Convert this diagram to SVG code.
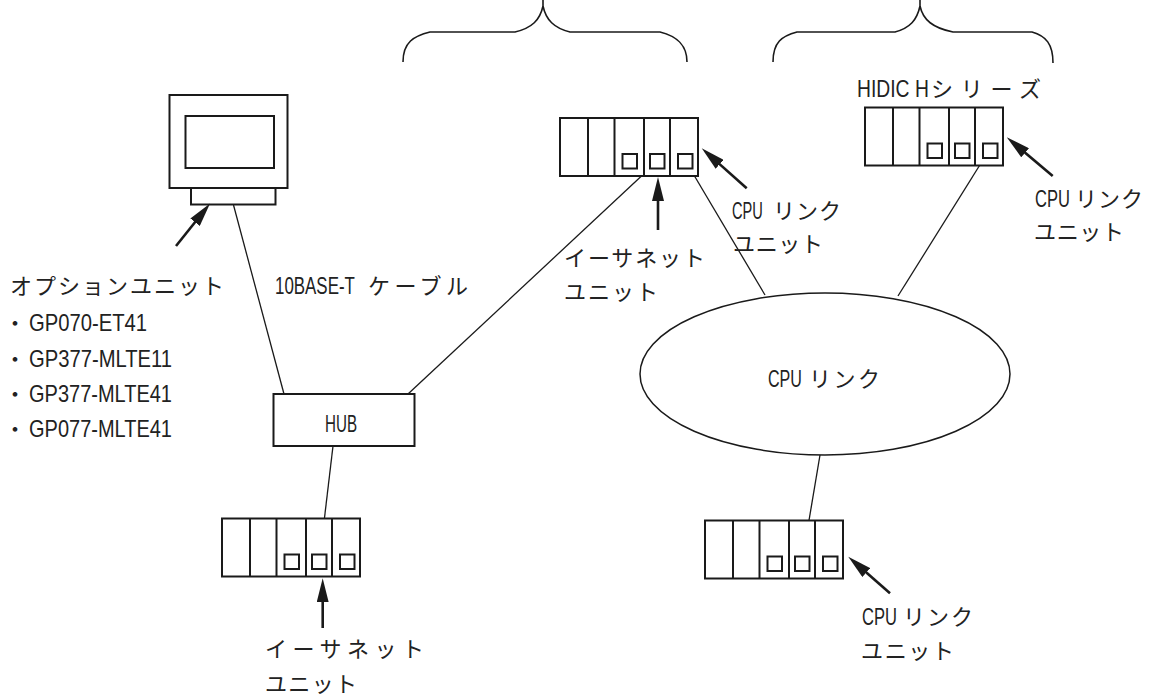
<svg xmlns="http://www.w3.org/2000/svg" xmlns:xlink="http://www.w3.org/1999/xlink" width="1155" height="696" viewBox="0 0 1155 696">
  <style>
    .box { fill: #fff; stroke: #1a1a1a; stroke-width: 2; }
    .thin { fill: none; stroke: #1a1a1a; stroke-width: 1.3; }
    .brace { fill: none; stroke: #1a1a1a; stroke-width: 1.6; }
    .arrow { fill: none; stroke: #1a1a1a; stroke-width: 2.6; marker-end: url(#head); }
    .jp { font-family: "Noto Sans CJK JP", "Noto Sans", sans-serif; font-size: 22px; fill: #222; }
    .lat { font-family: "Liberation Sans", Arial, sans-serif; font-size: 24px; fill: #222; }
  </style>
  <defs>
    <marker id="head" viewBox="0 0 24 12" markerWidth="24" markerHeight="12" refX="14" refY="6" orient="auto" markerUnits="userSpaceOnUse">
      <path d="M0,0 L24,6 L0,12 Z" fill="#1a1a1a"/>
    </marker>
    <!-- five-slot rack PLC -->
    <symbol id="plc" overflow="visible">
      <rect class="box" x="0" y="0" width="138" height="58"/>
      <path class="box" d="M28,0 V58 M54.5,0 V58 M84,0 V58 M110,0 V58"/>
      <rect class="box" x="62.5" y="36" width="14.5" height="14.5"/>
      <rect class="box" x="90" y="36" width="14.5" height="14.5"/>
      <rect class="box" x="118" y="36" width="14.5" height="14.5"/>
    </symbol>
  </defs>
  <rect width="1155" height="696" fill="#fff"/>

  <!-- braces over the two controller groups -->
  <g id="braces">
    <path class="brace" d="M403,62 C403,42 414,36 430,32 L515,32 C532,28 540,20 543,6 C546,20 554,28 570,32 L660,32 C676,36 687,44 687,62 M543,6 V0"/>
    <path class="brace" d="M773,62 C773,42 782,36 797,32 L895,32 C910,28 917,20 920,6 C923,20 933,28 953,32 L1032,32 C1046,36 1053,44 1053,63 M920,6 V0"/>
  </g>

  <!-- cables -->
  <g id="connectors">
    <path class="thin" d="M233.5,205 L284,394"/>
    <path class="thin" d="M408,394 L656.5,162"/>
    <path class="thin" d="M333,446 L319.5,560"/>
    <path class="thin" d="M685,160 L765,295"/>
    <path class="thin" d="M988,152 L898,296"/>
    <path class="thin" d="M820,455 L802,562"/>
  </g>

  <!-- display unit -->
  <g id="display">
    <rect class="box" x="169.5" y="95" width="118" height="93"/>
    <rect class="box" x="185.5" y="116" width="88.5" height="52"/>
    <rect class="box" x="191" y="188" width="84.5" height="16.5"/>
  </g>

  <g id="option-unit-label">
    <path class="arrow" d="M176,246 L203.8,211.2"/>
    <text class="jp" x="10" y="294" textLength="214" lengthAdjust="spacing">オプションユニット</text>
    <text class="jp" x="4" y="331">・<tspan class="lat" x="29" textLength="118" lengthAdjust="spacingAndGlyphs">GP070-ET41</tspan></text>
    <text class="jp" x="4" y="367">・<tspan class="lat" x="29" textLength="143" lengthAdjust="spacingAndGlyphs">GP377-MLTE11</tspan></text>
    <text class="jp" x="4" y="402">・<tspan class="lat" x="29" textLength="143" lengthAdjust="spacingAndGlyphs">GP377-MLTE41</tspan></text>
    <text class="jp" x="4" y="437">・<tspan class="lat" x="29" textLength="143" lengthAdjust="spacingAndGlyphs">GP077-MLTE41</tspan></text>
  </g>

  <!-- narrow Latin parts are drawn horizontally condensed -->
  <g id="cable-label">
    <text class="lat" transform="translate(275,294) scale(0.705,1)">10BASE-T</text>
    <text class="jp" x="368" y="294" textLength="100" lengthAdjust="spacing">ケーブル</text>
  </g>

  <g id="hub">
    <rect class="box" x="273.5" y="394" width="141" height="52"/>
    <text class="lat" x="325" y="432" textLength="32" lengthAdjust="spacingAndGlyphs">HUB</text>
  </g>

  <!-- PLC with Ethernet and CPU link units -->
  <g id="plc-ethernet">
    <use xlink:href="#plc" x="560" y="118"/>
    <path class="arrow" d="M658,230 L658,187"/>
    <text class="jp" x="564" y="266" textLength="141" lengthAdjust="spacing">イーサネット</text>
    <text class="jp" x="564" y="300" textLength="94" lengthAdjust="spacing">ユニット</text>
    <path class="arrow" d="M746.7,188.3 L709.2,154.9"/>
    <text class="lat" transform="translate(732,219) scale(0.61,1)">CPU</text>
    <text class="jp" x="773" y="219" textLength="68" lengthAdjust="spacing">リンク</text>
    <text class="jp" x="733" y="252" textLength="90" lengthAdjust="spacing">ユニット</text>
  </g>

  <g id="plc-hidic">
    <text class="lat" transform="translate(857,97) scale(0.84,1)" style="font-size:23px">HIDIC H</text>
    <text class="jp" x="931" y="97" textLength="110" lengthAdjust="spacing">シリーズ</text>
    <use xlink:href="#plc" x="865" y="107.5"/>
    <path class="arrow" d="M1052.7,176 L1014.4,143.7"/>
    <text class="lat" transform="translate(1035,207) scale(0.69,1)">CPU</text>
    <text class="jp" x="1075" y="207" textLength="68" lengthAdjust="spacing">リンク</text>
    <text class="jp" x="1034" y="240" textLength="90" lengthAdjust="spacing">ユニット</text>
  </g>

  <g id="cpu-link">
    <ellipse cx="825" cy="374" rx="185" ry="81" fill="none" stroke="#1a1a1a" stroke-width="1.5"/>
    <text class="lat" transform="translate(768,387) scale(0.67,1)">CPU</text>
    <text class="jp" x="809" y="387" textLength="71" lengthAdjust="spacing">リンク</text>
  </g>

  <g id="plc-bottom-left">
    <use xlink:href="#plc" x="222" y="518.5"/>
    <path class="arrow" d="M322.7,628 L322.7,588.3"/>
    <text class="jp" x="265" y="657" textLength="159" lengthAdjust="spacing">イーサネット</text>
    <text class="jp" x="265" y="692" textLength="92" lengthAdjust="spacing">ユニット</text>
  </g>

  <g id="plc-bottom-right">
    <use xlink:href="#plc" x="705" y="520.5"/>
    <path class="arrow" d="M890,593.3 L855.8,563.3"/>
    <text class="lat" transform="translate(862,625) scale(0.69,1)">CPU</text>
    <text class="jp" x="903" y="625" textLength="70" lengthAdjust="spacing">リンク</text>
    <text class="jp" x="861" y="659" textLength="93" lengthAdjust="spacing">ユニット</text>
  </g>
</svg>
